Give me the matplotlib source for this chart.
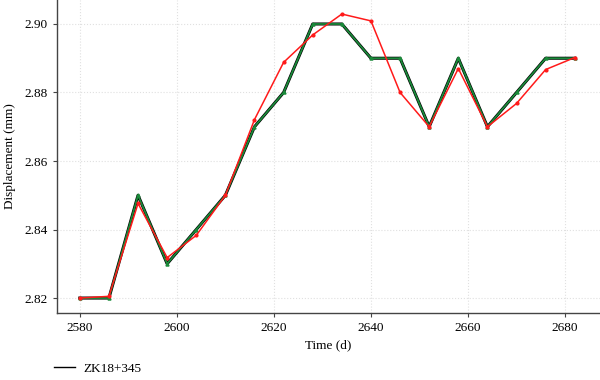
#Displacement vs time at ZK18+345, measured and fitted
import matplotlib
matplotlib.use('Agg')
import matplotlib.pyplot as plt

plt.rcParams['font.family'] = ['Liberation Serif', 'DejaVu Serif']

#Data
time_d = [2580, 2586, 2592, 2598, 2604, 2610, 2616, 2622, 2628, 2634,
          2640, 2646, 2652, 2658, 2664, 2670, 2676, 2682]
measured = [2.820, 2.820, 2.850, 2.830, 2.840, 2.850, 2.870, 2.880, 2.900, 2.900,
            2.890, 2.890, 2.870, 2.890, 2.870, 2.880, 2.890, 2.890]
model_a = measured  # green series follows the measured one
model_b = [2.8200, 2.8205, 2.8476, 2.8318, 2.8383, 2.8500, 2.8721, 2.8888, 2.8968, 2.9029,
           2.9009, 2.8800, 2.8700, 2.8870, 2.8700, 2.8768, 2.8867, 2.8902]

xticks = [2580, 2600, 2620, 2640, 2660, 2680]
yticks = [2.82, 2.84, 2.86, 2.88, 2.90]

fig = plt.figure(figsize=(6, 3.8), dpi=100)
ax = fig.add_axes([0.095, 0.176, 0.905, 0.824])

ax.spines["top"].set_visible(False)
ax.spines["right"].set_visible(False)
for s in ("left", "bottom"):
    ax.spines[s].set_color('#444444')
    ax.spines[s].set_linewidth(1.0)

ax.grid(True, color='#e0e0e0', linestyle=':', linewidth=0.8, zorder=0)

ax.plot(time_d, measured, color='black', lw=2.2, label='ZK18+345', zorder=2)
ax.plot(time_d, model_a, color='#1a8a3a', lw=1.3, marker='^', ms=2.2, zorder=3)
ax.plot(time_d, model_b, color='#ff1a1a', lw=1.1, marker='o', ms=2.0, zorder=4)

ax.set_xlim(2575.3, 2687.2)
ax.set_ylim(2.8156, 2.907)
ax.set_xticks(xticks)
ax.set_yticks(yticks)
ax.set_yticklabels(['%.2f' % v for v in yticks])
ax.tick_params(axis='both', labelsize=9.5, color='#444444', length=3)

ax.set_xlabel('Time (d)', fontsize=9.5, labelpad=4)
ax.set_ylabel('Displacement (mm)', fontsize=9.5, labelpad=6)

handles, labels = ax.get_legend_handles_labels()
leg = fig.legend(handles, labels, loc='lower left', bbox_to_anchor=(0.07, -0.018),
                 frameon=False, fontsize=9.5, handlelength=1.6, handletextpad=0.6)
for line in leg.get_lines():
    line.set_linewidth(1.0)

fig.savefig('out.png', dpi=100)
